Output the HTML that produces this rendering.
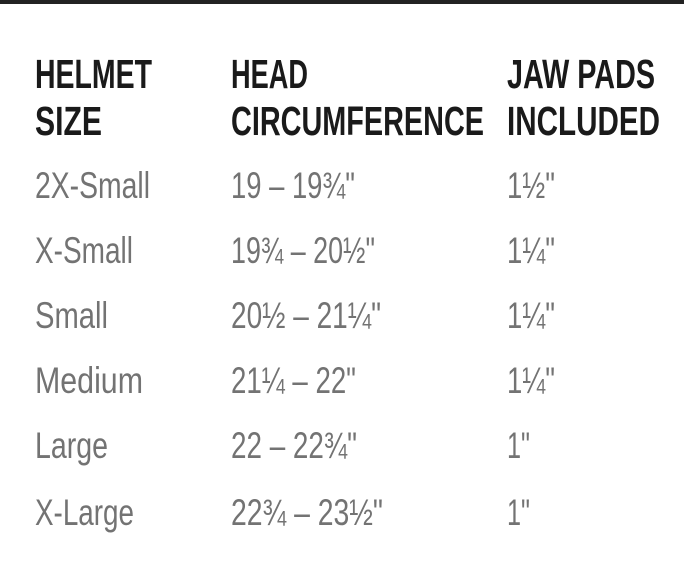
<!DOCTYPE html>
<html><head><style>body{margin:0;background:#fff}svg{display:block}</style></head><body>
<svg width="692" height="574" xmlns="http://www.w3.org/2000/svg">
<rect x="0" y="0" width="684" height="4" fill="#222"/>
<g font-family="'Liberation Sans Narrow','Liberation Sans',sans-serif" font-weight="bold" font-size="41" fill="#1a1a1a">
<text x="35" y="88" textLength="117" lengthAdjust="spacingAndGlyphs">HELMET</text>
<text x="35" y="135" textLength="67" lengthAdjust="spacingAndGlyphs">SIZE</text>
<text x="231" y="88" textLength="77" lengthAdjust="spacingAndGlyphs">HEAD</text>
<text x="231" y="135" textLength="253" lengthAdjust="spacingAndGlyphs">CIRCUMFERENCE</text>
<text x="507" y="88" textLength="148" lengthAdjust="spacingAndGlyphs">JAW PADS</text>
<text x="507" y="135" textLength="153" lengthAdjust="spacingAndGlyphs">INCLUDED</text>
</g>
<g font-family="'Liberation Sans Narrow','Liberation Sans',sans-serif" font-size="37" fill="#737373">
<text x="35" y="198" textLength="115" lengthAdjust="spacingAndGlyphs">2X-Small</text>
<text x="231" y="198" textLength="124" lengthAdjust="spacingAndGlyphs">19 – 19¾"</text>
<text x="507" y="198" textLength="48" lengthAdjust="spacingAndGlyphs">1½"</text>
<text x="35" y="263" textLength="98" lengthAdjust="spacingAndGlyphs">X-Small</text>
<text x="231" y="263" textLength="144" lengthAdjust="spacingAndGlyphs">19¾ – 20½"</text>
<text x="507" y="263" textLength="48" lengthAdjust="spacingAndGlyphs">1¼"</text>
<text x="35" y="328" textLength="73" lengthAdjust="spacingAndGlyphs">Small</text>
<text x="231" y="328" textLength="150" lengthAdjust="spacingAndGlyphs">20½ – 21¼"</text>
<text x="507" y="328" textLength="48" lengthAdjust="spacingAndGlyphs">1¼"</text>
<text x="35" y="393" textLength="108" lengthAdjust="spacingAndGlyphs">Medium</text>
<text x="231" y="393" textLength="125" lengthAdjust="spacingAndGlyphs">21¼ – 22"</text>
<text x="507" y="393" textLength="48" lengthAdjust="spacingAndGlyphs">1¼"</text>
<text x="35" y="458" textLength="73" lengthAdjust="spacingAndGlyphs">Large</text>
<text x="231" y="458" textLength="126" lengthAdjust="spacingAndGlyphs">22 – 22¾"</text>
<text x="507" y="458" textLength="23" lengthAdjust="spacingAndGlyphs">1"</text>
<text x="35" y="525" textLength="99" lengthAdjust="spacingAndGlyphs">X-Large</text>
<text x="231" y="525" textLength="152" lengthAdjust="spacingAndGlyphs">22¾ – 23½"</text>
<text x="507" y="525" textLength="23" lengthAdjust="spacingAndGlyphs">1"</text>
</g>
</svg>
</body></html>
